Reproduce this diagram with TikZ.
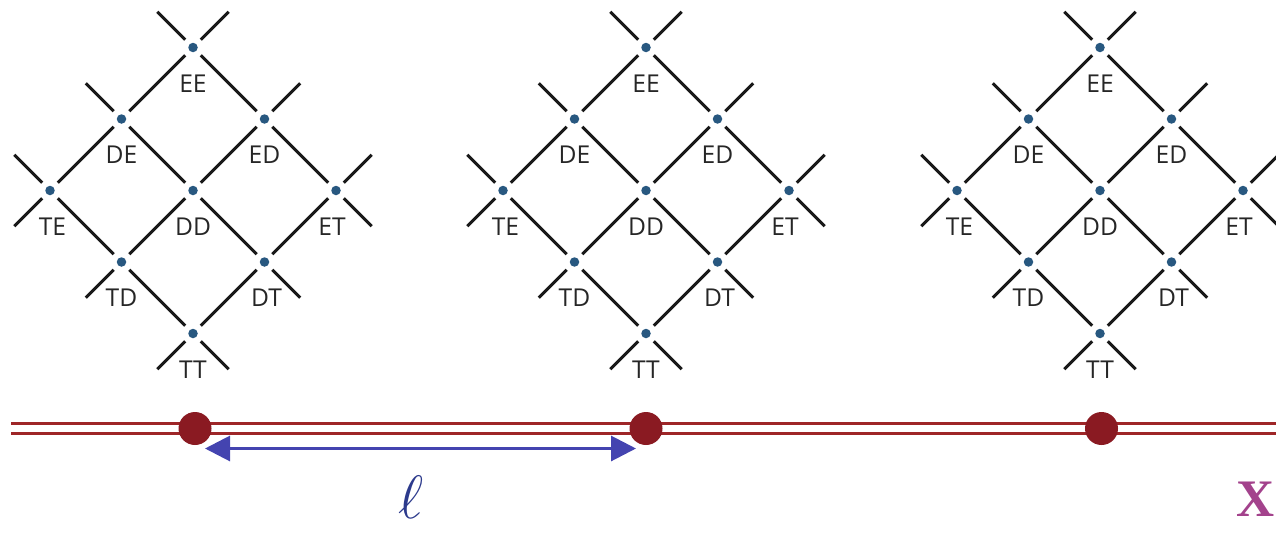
\documentclass[tikz,border=0pt]{standalone}
\usepackage{fontspec}
\newfontfamily\labelfont{Open Sans}
\newfontfamily\axisfont{Liberation Serif}
\usetikzlibrary{arrows.meta,positioning,calc}
\definecolor{sitedot}{RGB}{40,88,128}
\definecolor{chainred}{RGB}{158,38,40}
\definecolor{beadred}{RGB}{138,26,34}
\definecolor{spanblue}{RGB}{68,68,176}
\definecolor{ellblue}{RGB}{44,58,140}
\definecolor{axismag}{RGB}{163,66,140}

\begin{document}
\begin{tikzpicture}[
    site/.style={circle, fill=sitedot, inner sep=0pt, minimum size=0.19cm,
                 outer sep=0.125cm},
    bond/.style={line width=0.062cm, black!90},
    tag/.style={font=\labelfont\fontsize{14}{16}\selectfont, text=black!85,
                inner sep=0pt},
    bead/.style={circle, fill=beadred, inner sep=0pt, minimum size=0.66cm},
    span/.style={{Triangle[length=0.5cm,width=0.5cm]}-{Triangle[length=0.5cm,width=0.5cm]},
                 line width=0.06cm, spanblue}
]
\useasboundingbox (0,0) rectangle (25.52,10.64);

% three copies of the lattice, one above each bead
\foreach \k/\cx in {1/3.86, 2/12.92, 3/22.0} {
  \node[site] (EE\k) at (\cx,9.69) {};
  \node[site] (DE\k) at ($(EE\k)+(-1.43,-1.43)$) {};
  \node[site] (ED\k) at ($(EE\k)+(1.43,-1.43)$) {};
  \node[site] (TE\k) at ($(EE\k)+(-2.86,-2.86)$) {};
  \node[site] (DD\k) at ($(EE\k)+(0,-2.86)$) {};
  \node[site] (ET\k) at ($(EE\k)+(2.86,-2.86)$) {};
  \node[site] (TD\k) at ($(EE\k)+(-1.43,-4.29)$) {};
  \node[site] (DT\k) at ($(EE\k)+(1.43,-4.29)$) {};
  \node[site] (TT\k) at ($(EE\k)+(0,-5.72)$) {};

  \node[tag, below=0.32cm of EE\k] {EE};
  \node[tag, below=0.32cm of DE\k] {DE};
  \node[tag, below=0.32cm of ED\k] {ED};
  \node[tag, below=0.32cm of TE\k, xshift=0.05cm] {TE};
  \node[tag, below=0.32cm of DD\k] {DD};
  \node[tag, below=0.32cm of ET\k, xshift=-0.08cm] {ET};
  \node[tag, below=0.32cm of TD\k] {TD};
  \node[tag, below=0.32cm of DT\k, xshift=0.04cm] {DT};
  \node[tag, below=0.32cm of TT\k] {TT};

  \draw[bond] (EE\k) -- (DE\k);
  \draw[bond] (EE\k) -- (ED\k);
  \draw[bond] (DE\k) -- (TE\k);
  \draw[bond] (DE\k) -- (DD\k);
  \draw[bond] (ED\k) -- (DD\k);
  \draw[bond] (ED\k) -- (ET\k);
  \draw[bond] (TE\k) -- (TD\k);
  \draw[bond] (DD\k) -- (TD\k);
  \draw[bond] (DD\k) -- (DT\k);
  \draw[bond] (ET\k) -- (DT\k);
  \draw[bond] (TD\k) -- (TT\k);
  \draw[bond] (DT\k) -- (TT\k);

  % open ends
  \draw[bond] (EE\k.135) -- ++(135:0.79);
  \draw[bond] (EE\k.45)  -- ++(45:0.79);
  \draw[bond] (DE\k.135) -- ++(135:0.79);
  \draw[bond] (ED\k.45)  -- ++(45:0.79);
  \draw[bond] (TE\k.135) -- ++(135:0.79);
  \draw[bond] (TE\k.225) -- ++(225:0.79);
  \draw[bond] (ET\k.45)  -- ++(45:0.79);
  \draw[bond] (ET\k.-45) -- ++(-45:0.79);
  \draw[bond] (TD\k.225) -- ++(225:0.79);
  \draw[bond] (DT\k.-45) -- ++(-45:0.79);
  \draw[bond] (TT\k.225) -- ++(225:0.79);
  \draw[bond] (TT\k.-45) -- ++(-45:0.79);
}

% the chain
\coordinate (chainL) at (0.22,2.07);
\coordinate (chainR) at (25.8,2.07);
\draw[chainred, line width=0.065cm, double=white, double distance=0.135cm]
    (chainL) -- (chainR);
\node[bead] (b1) at (3.9,2.07) {};
\node[bead] (b2) at (12.92,2.07) {};
\node[bead] (b3) at (22.03,2.07) {};

\coordinate (span1) at ($(b1)+(0.2,-0.4)$);
\coordinate (span2) at ($(b2)+(-0.2,-0.4)$);
\draw[span] (span1) -- (span2);

\node[text=ellblue, font=\Huge, scale=1.4, inner sep=0pt] (ell) at (8.23,0.7) {$\ell$};
\node[text=axismag, font=\axisfont\fontsize{30}{32}\selectfont\bfseries,
      inner sep=0pt, anchor=east] (xaxis) at (25.5,0.66) {X};
\end{tikzpicture}
\end{document}
